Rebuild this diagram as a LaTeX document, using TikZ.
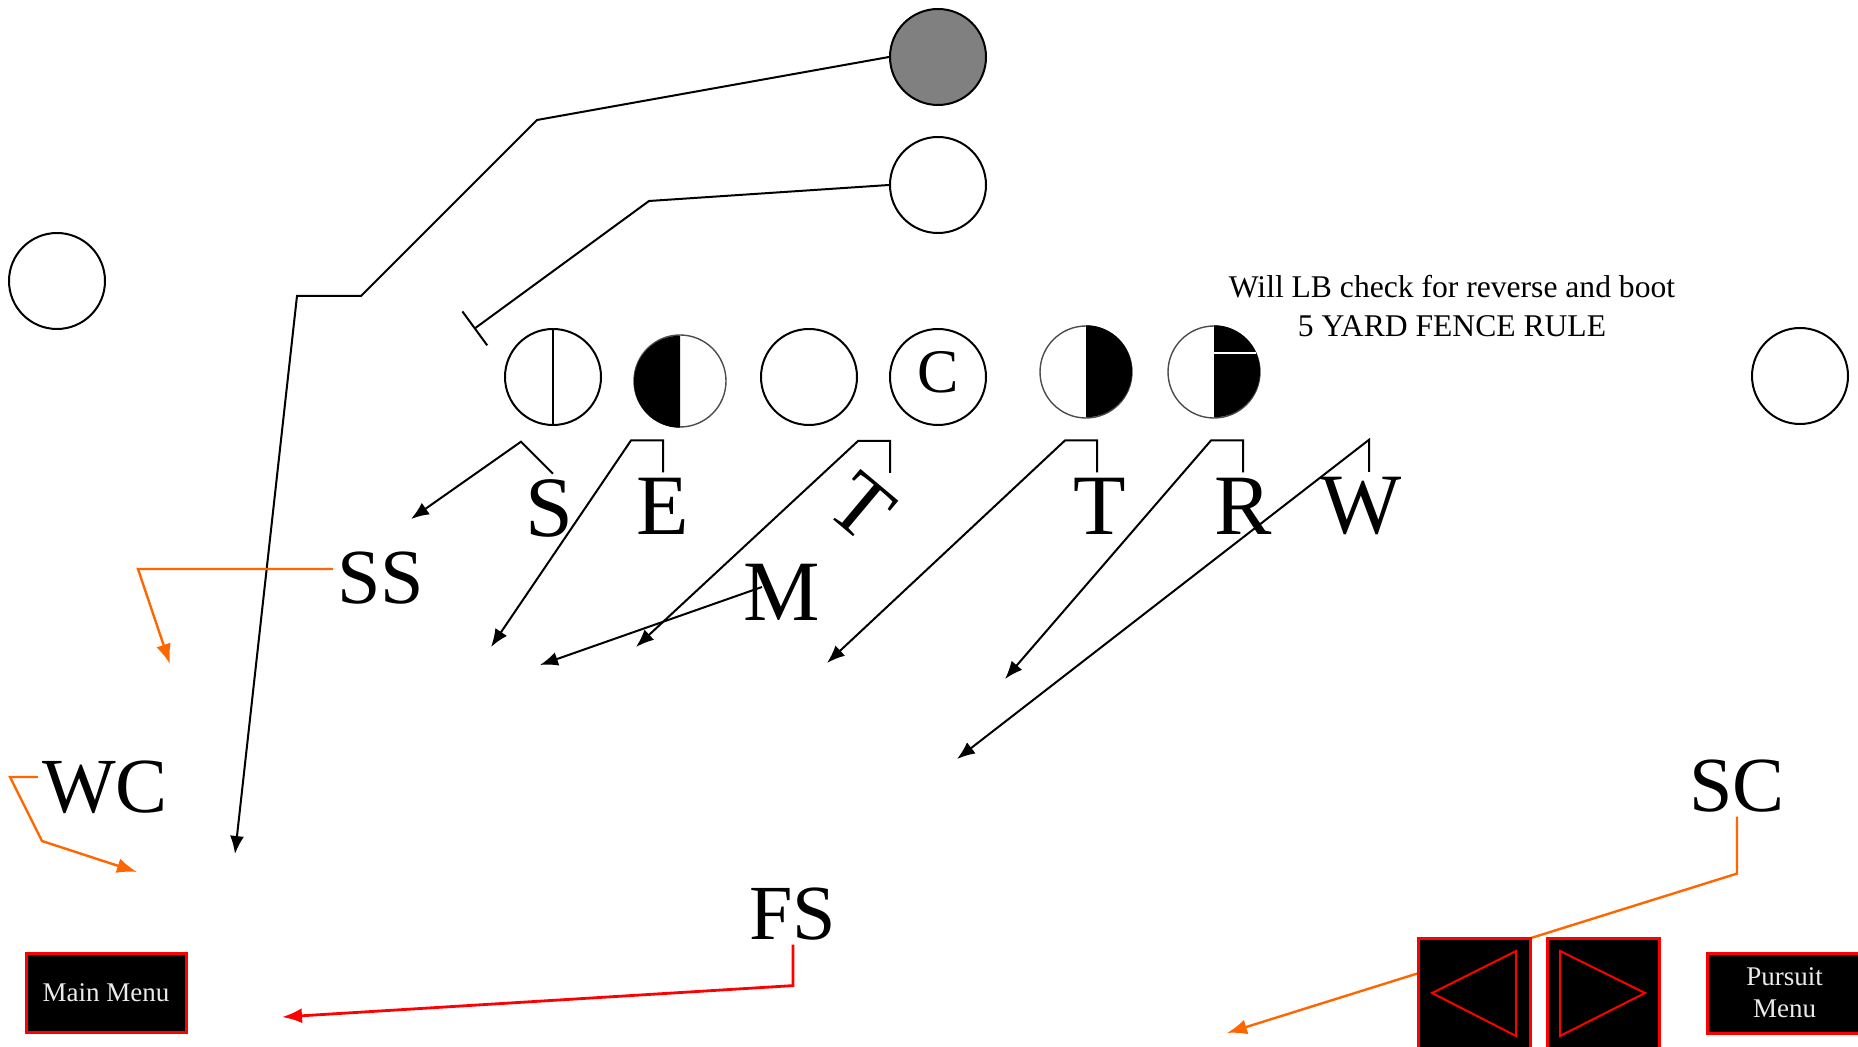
\documentclass[tikz,border=0pt]{standalone}
\usepackage{fontspec}
\setmainfont{Liberation Serif}
\usetikzlibrary{arrows.meta}

\definecolor{rte}{HTML}{FF6600}
\definecolor{btn}{HTML}{FF0000}

\begin{document}
\begin{tikzpicture}[x=0.5pt,y=-0.5pt,
  player/.style={circle,draw,line width=1pt,minimum size=48pt,inner sep=0pt},
  half/.style={circle,draw=black!70,line width=0.7pt,minimum size=46pt,inner sep=0pt},
  def/.style={inner sep=2.5pt,font=\fontsize{43pt}{43pt}\selectfont},
  dback/.style={inner sep=2pt,font=\fontsize{39pt}{39pt}\selectfont},
  run/.style={line width=1pt,-{Latex[length=9pt,width=7pt]}},
  lane/.style={draw=rte,line width=1.2pt,-{Latex[length=10pt,width=7.5pt]}},
  menubox/.style={draw=btn,fill=black,line width=1.5pt,text=white!92!black,
    font=\fontsize{13.5pt}{16pt}\selectfont,align=center,inner sep=0pt},
  navbox/.style={draw=btn,fill=black,line width=1.5pt,minimum width=56pt,minimum height=62pt,inner sep=0pt}
]
\clip (0,0) rectangle (1858,1047);

% offense
\node[player,fill=gray] (tb) at (938,57) {};
\node[player] (fb) at (938,185) {};
\node[player] (se) at (57,281) {};
\node[player] (fl) at (1800,376) {};

\node[player] (o1) at (553,377) {};
\node[half] (o2) at (680,381) {};
\node[player] (o3) at (809,377) {};
\node[player] (o4) at (938,377) {};
\node[half] (o5) at (1086,372) {};
\node[half] (o6) at (1214,372) {};

\draw[line width=1pt] (o1.north) -- (o1.south);
\fill (o2.south) arc[start angle=270,end angle=90,radius=23pt] -- cycle;
\fill (o5.north) arc[start angle=90,end angle=-90,radius=23pt] -- cycle;
\fill (o6.north) arc[start angle=90,end angle=-90,radius=23pt] -- cycle;
\draw[white,line width=1pt] ([yshift=9.5pt]o6.center) -- ++(21pt,0);
\node[font=\fontsize{31pt}{31pt}\selectfont,inner sep=0pt] (ctr) at ([yshift=2.5pt]o4.center) {C};

\node[font=\fontsize{15.8pt}{19.5pt}\selectfont,align=center] (note) at (1452,306)
  {Will LB check for reverse and boot\\5 YARD FENCE RULE};

% defense
\node[def] (S) at (549,508) {S};
\node[def] (E) at (663,506) {E};
\node[def,rotate=-40] (tk) at (862,507) {T};
\node[def] (T) at (1100,506) {T};
\node[def] (R) at (1243,506) {R};
\node[def] (W) at (1361,506) {W};
\node[def] (M) at (782,592) {M};

\node[dback] (SS) at (381,578) {SS};
\node[dback] (WC) at (105,787) {WC};
\node[dback] (SC) at (1737,786) {SC};
\node[dback] (FS) at (793,914) {FS};

\coordinate (tkTop) at (890,473);
\coordinate (tbEnd) at (235,854);
\coordinate (fbEnd) at (474,329);
\coordinate (sEnd) at (411,519);
\coordinate (eEnd) at (491,647);
\coordinate (tkEnd) at (636,647);
\coordinate (mEnd) at (540,665);
\coordinate (tEnd) at (827,663);
\coordinate (rEnd) at (1005,679);
\coordinate (wEnd) at (957,759);
\coordinate (ssEnd) at (170,664);
\coordinate (wcEnd) at (137,872);
\coordinate (scEnd) at (1227,1033);
\coordinate (fsEnd) at (282,1017);

% backfield paths
\draw[run] (tb.west) -- (537,120) -- (361,296) -- (297,296) -- (tbEnd);
\draw[line width=1pt,-{Bar[width=21pt]}] (fb.west) -- (649,201) -- (fbEnd);

% fronts
\draw[run] ([xshift=2pt]S.north) -- ++(-32,-32) -- (sEnd);
\draw[run] (E.north) -- ++(0,-32) -- ++(-32,0) -- (eEnd);
\draw[run] (tkTop) -- ++(0,-32) -- ++(-32,0) -- (tkEnd);
\draw[run] ([xshift=-1.5pt]T.north) -- ++(0,-32) -- ++(-32,0) -- (tEnd);
\draw[run] (R.north) -- ++(0,-32) -- ++(-32,0) -- (rEnd);
\draw[run] ([xshift=4pt]W.north) -- ++(0,-32) -- (wEnd);
\draw[run] ([xshift=-10pt,yshift=2.5pt]M.center) -- (mEnd);

% secondary
\draw[lane] ([yshift=4.5pt]SS.west) -- (138,569) -- (ssEnd);
\draw[lane] ([yshift=5pt]WC.west) -- (10,777) -- (42,841) -- (wcEnd);
\draw[lane] (SC.south) -- ++(0,57) -- (scEnd);
\draw[draw=btn,line width=1.4pt,-{Latex[length=10pt,width=7.5pt]}] (FS.south) -- ++(0,41) -- (fsEnd);

% buttons
\node[menubox,minimum width=80pt,minimum height=39.5pt] (main) at (106,992.5) {Main Menu};
\node[menubox,minimum width=77pt,minimum height=40pt,anchor=west] (pursuit) at (1706,993) {Pursuit\\Menu};
\node[navbox,anchor=north west] (prev) at (1417,937) {};
\node[navbox,anchor=north west] (next) at (1546,937) {};
\draw[btn,line width=1pt] (1432,993) -- (1516,951) -- (1516,1036) -- cycle;
\draw[btn,line width=1pt] (1645,993) -- (1560,951) -- (1560,1036) -- cycle;
\end{tikzpicture}
\end{document}
